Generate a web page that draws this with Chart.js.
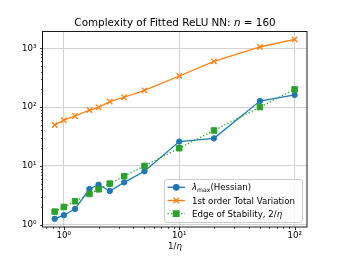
<!DOCTYPE html>
<html>
<head>
<meta charset="utf-8">
<script src="https://cdn.jsdelivr.net/npm/chart.js@4.4.0/dist/chart.umd.min.js"></script>
<style>
  html, body { margin: 0; padding: 0; background: #fff; }
  #wrap { width: 341px; height: 256px; }
</style>
</head>
<body>
<div id="wrap"><canvas id="chart" width="341" height="256"></canvas></div>
<script>
// values
const invEta = [0.833, 1, 1.25, 1.667, 2, 2.5, 3.333, 5, 10, 20, 50, 100];
const lambdaMax = [1.26, 1.45, 1.85, 4.05, 4.8, 3.74, 5.25, 8.1, 25.9, 29.4, 127, 161];
const totalVariation = [49.6, 60, 70.6, 89, 99, 124, 147, 193, 338, 601, 1052, 1422];
const edgeOfStability = [1.67, 2, 2.5, 3.33, 4, 5, 6.67, 10, 20, 40, 100, 200];
const xRange = [0.66, 128];
const yRange = [0.914, 1968];
const xTickLabels = { 1: '10⁰', 10: '10¹', 100: '10²' };
const yTickLabels = { 1: '10⁰', 10: '10¹', 100: '10²', 1000: '10³' };

const FONT = '"DejaVu Sans", "Liberation Sans", sans-serif';
const BLUE = '#1f77b4', ORANGE = '#ff7f0e', GREEN = '#2ca02c';

function toPoints(ys) {
    return invEta.map((x, i) => ({ x: x, y: ys[i] }));
}

// log ticks 1..9 per decade, decades are major
function logTicks(min, max) {
    const ticks = [];
    for (let e = Math.floor(Math.log10(min)); e <= Math.ceil(Math.log10(max)); e++) {
        for (let k = 1; k <= 9; k++) {
            const v = k * Math.pow(10, e);
            if (v >= min && v <= max) ticks.push({ value: v, isDecade: k === 1 });
        }
    }
    return ticks;
}

function isDecade(v) {
    const l = Math.log10(v);
    return Math.abs(l - Math.round(l)) < 1e-9;
}

// draw a row of text parts (normal/italic/subscript)
function drawParts(ctx, parts, x, y, align) {
    let total = 0;
    parts.forEach(p => {
        ctx.font = (p.italic ? 'italic ' : '') + p.size + 'px ' + FONT;
        p.w = ctx.measureText(p.t).width;
        total += p.w;
    });
    let cx = align === 'center' ? x - total / 2 : x;
    ctx.textAlign = 'left';
    ctx.textBaseline = 'alphabetic';
    parts.forEach(p => {
        ctx.font = (p.italic ? 'italic ' : '') + p.size + 'px ' + FONT;
        ctx.fillText(p.t, cx, y + (p.dy || 0));
        cx += p.w;
    });
}

const styles = [
    { color: BLUE, dash: [], pointStyle: 'circle', radius: 2.7, lw: 1.3 },
    { color: ORANGE, dash: [], pointStyle: 'crossRot', radius: 3.8, lw: 1.3 },
    { color: GREEN, dash: [1.3, 2.1], pointStyle: 'rect', radius: 3.9, lw: 1.3 }
];

const legendLabels = [
    [{ t: 'λ', italic: true, size: 8.65 }, { t: 'max', size: 6.1, dy: 1.6 }, { t: '(Hessian)', size: 8.65 }],
    [{ t: '1st order Total Variation', size: 8.65 }],
    [{ t: 'Edge of Stability, 2/', size: 8.65 }, { t: 'η', italic: true, size: 8.65 }]
];

const decorPlugin = {
    id: 'decor',
    afterDatasetsDraw(chart) {
        const ctx = chart.ctx;
        const a = chart.chartArea;
        ctx.save();
        // tick marks, outward like matplotlib
        ctx.strokeStyle = '#000';
        ctx.lineWidth = 0.8;
        const xs = chart.scales.x, ys = chart.scales.y;
        xs.ticks.forEach(t => {
            const px = Math.round(xs.getPixelForValue(t.value)) + 0.5;
            const len = isDecade(t.value) ? 3 : 1.8;
            ctx.beginPath();
            ctx.moveTo(px, a.bottom);
            ctx.lineTo(px, a.bottom + len);
            ctx.stroke();
        });
        ys.ticks.forEach(t => {
            const py = Math.round(ys.getPixelForValue(t.value)) + 0.5;
            const len = isDecade(t.value) ? 3 : 1.8;
            ctx.beginPath();
            ctx.moveTo(a.left, py);
            ctx.lineTo(a.left - len, py);
            ctx.stroke();
        });
        // frame
        ctx.strokeStyle = '#1a1a1a';
        ctx.lineWidth = 1;
        ctx.strokeRect(Math.round(a.left) - 0.5, Math.round(a.top) + 0.5,
            Math.round(a.right - a.left) + 0.5, Math.round(a.bottom - a.top) - 0.5);
        ctx.restore();
    },
    afterDraw(chart) {
        const ctx = chart.ctx;
        const a = chart.chartArea;
        ctx.save();
        ctx.fillStyle = '#000';
        // title
        drawParts(ctx, [
            { t: 'Complexity of Fitted ReLU NN: ', size: 10.4 },
            { t: 'n', italic: true, size: 10.4 },
            { t: ' = 160', size: 10.4 }
        ], (a.left + a.right) / 2, 26, 'center');
        // x axis label
        drawParts(ctx, [
            { t: '1/', size: 8.65 },
            { t: 'η', italic: true, size: 8.65 }
        ], (a.left + a.right) / 2, 248.5, 'center');

        // legend box
        const bx = 164, by = 179, bw = 138, bh = 43;
        ctx.beginPath();
        ctx.roundRect(bx + 0.5, by + 0.5, bw, bh, 2.5);
        ctx.fillStyle = 'rgba(255,255,255,0.8)';
        ctx.fill();
        ctx.strokeStyle = '#cccccc';
        ctx.lineWidth = 1;
        ctx.stroke();
        const rows = [187.3, 200.5, 213.7];
        styles.forEach((s, i) => {
            const y = rows[i];
            ctx.strokeStyle = s.color;
            ctx.fillStyle = s.color;
            ctx.lineWidth = s.lw;
            ctx.setLineDash(s.dash);
            ctx.beginPath();
            ctx.moveTo(167.5, y);
            ctx.lineTo(185, y);
            ctx.stroke();
            ctx.setLineDash([]);
            Chart.helpers.drawPoint(ctx, {
                pointStyle: s.pointStyle, radius: s.radius, rotation: 0, borderWidth: 1
            }, 176.2, y);
            ctx.fillStyle = '#000';
            drawParts(ctx, legendLabels[i], 192, y + 3.1, 'left');
        });
        ctx.restore();
    }
};

function makeDataset(label, ys, s, order) {
    return {
        label: label,
        data: toPoints(ys),
        borderColor: s.color,
        backgroundColor: s.color,
        borderWidth: s.lw,
        borderDash: s.dash,
        pointStyle: s.pointStyle,
        pointRadius: s.radius,
        pointBorderWidth: s.pointStyle === 'crossRot' ? 1.3 : 1,
        pointBackgroundColor: s.color,
        pointBorderColor: s.color,
        tension: 0,
        order: order
    };
}

new Chart(document.getElementById('chart').getContext('2d'), {
    type: 'line',
    data: {
        datasets: [
            makeDataset('lambda max (Hessian)', lambdaMax, styles[0], 3),
            makeDataset('1st order Total Variation', totalVariation, styles[1], 2),
            makeDataset('Edge of Stability, 2/eta', edgeOfStability, styles[2], 1)
        ]
    },
    options: {
        responsive: false,
        animation: false,
        events: [],
        layout: { padding: { left: 0, right: 34, top: 31, bottom: 0 } },
        plugins: { legend: { display: false }, tooltip: { enabled: false }, title: { display: false } },
        scales: {
            x: {
                type: 'logarithmic',
                min: xRange[0],
                max: xRange[1],
                afterBuildTicks: (s) => { s.ticks = logTicks(xRange[0], xRange[1]).map(t => ({ value: t.value })); },
                afterFit: (s) => { s.height = 29; },
                border: { display: false },
                grid: {
                    drawTicks: false,
                    lineWidth: 1,
                    color: (c) => (c.tick && isDecade(c.tick.value)) ? '#d2d2d2' : 'rgba(0,0,0,0)'
                },
                ticks: {
                    autoSkip: false,
                    maxRotation: 0,
                    padding: 4,
                    color: '#000',
                    font: { family: FONT, size: 8.65 },
                    callback: (v) => xTickLabels[Math.round(v)] && isDecade(v) ? xTickLabels[Math.round(v)] : ''
                }
            },
            y: {
                type: 'logarithmic',
                min: yRange[0],
                max: yRange[1],
                afterBuildTicks: (s) => { s.ticks = logTicks(yRange[0], yRange[1]).map(t => ({ value: t.value })); },
                afterFit: (s) => { s.width = 43; },
                border: { display: false },
                grid: {
                    drawTicks: false,
                    lineWidth: 1,
                    color: (c) => (c.tick && isDecade(c.tick.value)) ? '#d2d2d2' : 'rgba(0,0,0,0)'
                },
                ticks: {
                    autoSkip: false,
                    padding: 6.5,
                    color: '#000',
                    font: { family: FONT, size: 8.65 },
                    callback: (v) => yTickLabels[Math.round(v)] && isDecade(v) ? yTickLabels[Math.round(v)] : ''
                }
            }
        }
    },
    plugins: [decorPlugin]
});
</script>
</body>
</html>
